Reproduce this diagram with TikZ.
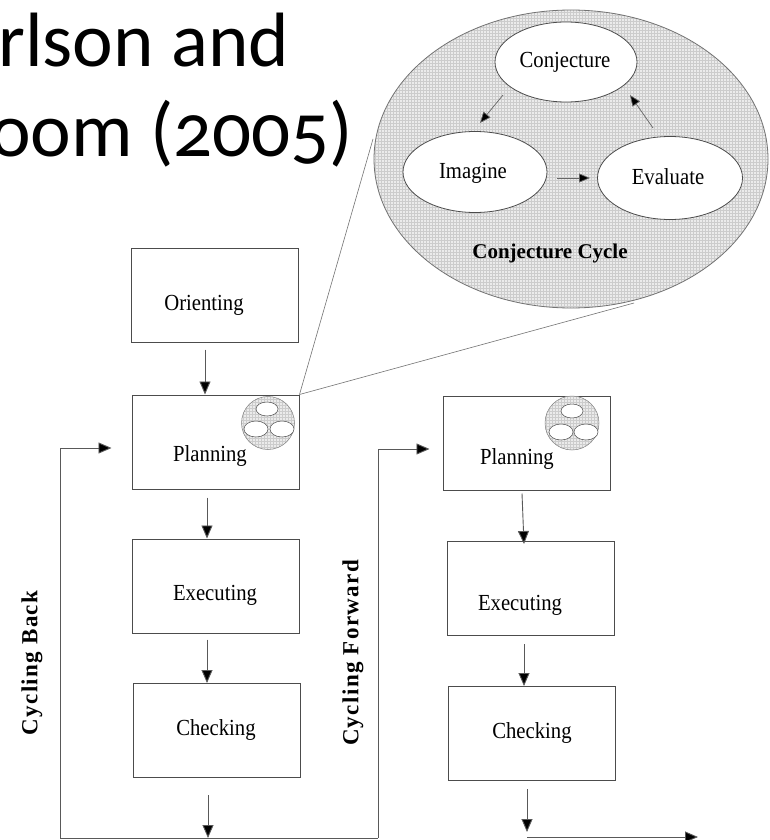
\documentclass[tikz,border=0pt]{standalone}
\usepackage{fontspec}
\setmainfont{Liberation Serif}
\newfontfamily\titlefont[Numbers=OldStyle]{Carlito}
\usetikzlibrary{arrows.meta,patterns,shapes.geometric,calc}
\begin{document}
\begin{tikzpicture}[x=1pt,y=-1pt,
  box/.style={draw=black!70, line width=1pt, minimum width=167pt, minimum height=94pt, inner sep=0pt},
  lbl/.style={font=\fontsize{23}{26}\selectfont, inner sep=0pt, xscale=0.9},
  side/.style={font=\fontsize{23}{26}\selectfont\bfseries\addfontfeature{LetterSpace=6}, inner sep=0pt, rotate=90},
  ttl/.style={font=\titlefont\fontsize{77}{90}\selectfont, inner sep=0pt, anchor=base west},
  arr/.style={draw=black!65, line width=0.9pt, -{Triangle[width=11pt,length=13pt,fill=black]}},
  sarr/.style={draw=black!60, line width=0.7pt, -{Triangle[width=9pt,length=11pt,fill=black]}},
  conn/.style={draw=black!65, line width=0.9pt},
  zoomline/.style={draw=black!55, line width=0.6pt},
  hatch/.style={preaction={fill=black!8}, pattern=grid, pattern color=black!20},
  oval/.style={ellipse, draw=black!70, line width=0.8pt, fill=white, inner sep=0pt},
  mini/.style={ellipse, draw=black!70, line width=0.5pt, fill=white, inner sep=0pt}]
\useasboundingbox (0,0) rectangle (769,840);
\fill[white] (0,0) rectangle (769,840);

% title (cropped at the left edge, as in the reference)
\begin{scope}
\clip (0,0) rectangle (769,840);
\node[ttl] (t1) at (-2,67) {rlson and};
\node[ttl] (t2) at (-10,156) {oom (2005)};
\end{scope}

% conjecture cycle
\node[ellipse, draw=black!55, line width=0.8pt, hatch, minimum width=394pt, minimum height=298pt, inner sep=0pt] (cyc) at (571,159) {};
\node[oval, minimum width=142pt, minimum height=80pt] (conj) at (566,62) {};
\node[lbl] (conjT) at (565,62) {Conjecture};
\node[oval, minimum width=144pt, minimum height=81pt] (imag) at (475,172) {};
\node[lbl] (imagT) at (473,173) {Imagine};
\node[oval, minimum width=145pt, minimum height=83pt] (eval) at (670,178) {};
\node[lbl] (evalT) at (668,177) {Evaluate};
\node[inner sep=0pt, font=\fontsize{21}{24}\selectfont\bfseries] (cycT) at (550,253) {Conjecture Cycle};
\draw[sarr] ($(conj.center)+(-63,33)$) -- ($(imag.center)+(5,-49)$);
\draw[sarr] ($(imag.center)+(82,6)$) -- ($(eval.center)+(-80,0)$);
\draw[sarr] ($(eval.center)+(-17,-50)$) -- ($(conj.center)+(64,33)$);

% boxes
\node[box] (orient) at (214.5,295) {};
\node[lbl] (orientT) at (204,305) {Orienting};
\node[box] (plan1) at (215.5,442) {};
\node[lbl] (plan1T) at (210,456) {Planning};
\node[box] (exec1) at (215.5,586) {};
\node[lbl] (exec1T) at (215,595) {Executing};
\node[box] (check1) at (216.5,730.5) {};
\node[lbl] (check1T) at (216,730) {Checking};
\node[box] (plan2) at (526.5,443) {};
\node[lbl] (plan2T) at (517,459) {Planning};
\node[box] (exec2) at (530.5,588.5) {};
\node[lbl] (exec2T) at (520,605) {Executing};
\node[box] (check2) at (531.5,733.5) {};
\node[lbl] (check2T) at (532,733) {Checking};

% small icons
\node[circle, draw=black!50, line width=0.5pt, hatch, minimum size=53pt, inner sep=0pt] (ic1) at (268,423) {};
\node[mini, minimum width=22pt, minimum height=14pt] (ic1a) at (267,409) {};
\node[mini, minimum width=24pt, minimum height=16pt] (ic1b) at (256,429) {};
\node[mini, minimum width=24pt, minimum height=16pt] (ic1c) at (282,429) {};
\node[circle, draw=black!50, line width=0.5pt, hatch, minimum size=54pt, inner sep=0pt] (ic2) at (572,423) {};
\node[mini, minimum width=22pt, minimum height=14pt] (ic2a) at (572,411) {};
\node[mini, minimum width=24pt, minimum height=16pt] (ic2b) at (561,432) {};
\node[mini, minimum width=24pt, minimum height=16pt] (ic2c) at (586,432) {};

% zoom lines
\coordinate (zA) at (373,139);
\coordinate (zB) at (634,303);
\draw[zoomline] (plan1.north east) -- (zA);
\draw[zoomline] (plan1.north east) -- (zB);

% side labels
\node[side] (cback) at (32,663) {Cycling Back};
\node[side] (cfwd) at (353,653) {Cycling Forward};

% flow arrows column 1
\draw[arr] ($(orient.south)+(-9.5,7)$) -- ($(plan1.north)+(-10.5,0)$);
\draw[arr] ($(plan1.south)+(-8.5,8)$) -- ($(exec1.north)+(-8.5,0)$);
\draw[arr] ($(exec1.south)+(-8.5,6)$) -- ($(check1.north)+(-9.5,0)$);
\coordinate (bl) at (60,838);
\coordinate (br) at (378,838);
\coordinate (c1s) at ($(check1.south)+(-8.5,17)$);
\draw[arr] (c1s) -- (c1s |- bl);
\draw[conn] (bl) -- (br);
\draw[arr] (bl) |- ($(plan1.west)+(-20,6)$);
\draw[arr] (br) |- ($(plan2.west)+(-13,6)$);

% flow arrows column 2
\draw[arr] ($(plan2.south)+(-4.5,3)$) -- ($(exec2.north)+(-6.5,3)$);
\draw[arr] ($(exec2.south)+(-6.5,8)$) -- ($(check2.north)+(-7.5,0)$);
\coordinate (c2s) at ($(check2.south)+(-4.5,8)$);
\coordinate (oute) at (698,837);
\coordinate (outs) at (c2s |- oute);
\draw[arr] (c2s) -- ($(outs)+(0,-5)$);
\draw[arr] (outs) -- (oute);
\end{tikzpicture}
\end{document}
